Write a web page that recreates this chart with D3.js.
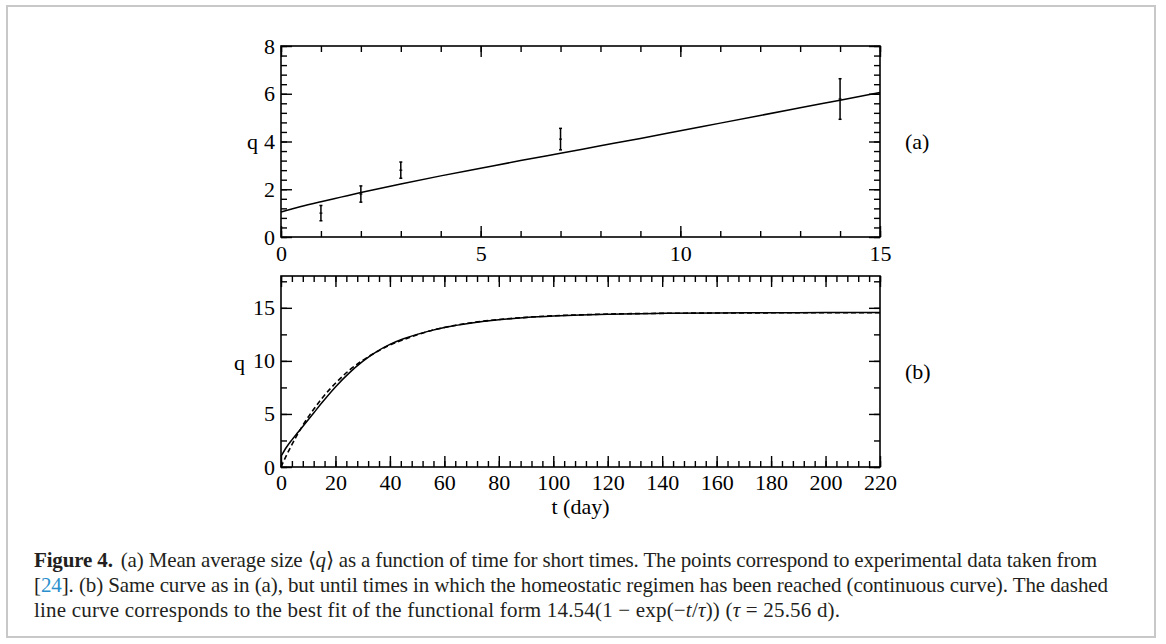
<!DOCTYPE html>
<html>
<head>
<meta charset="utf-8">
<script src="https://cdn.jsdelivr.net/npm/d3@7"></script>
<style>
  body { margin: 0; background: #fff; }
  svg { display: block; }
  .axis text { font-family: "Liberation Serif", "DejaVu Serif", serif; font-size: 22px; fill: #000; }
  .axis line { stroke: #000; stroke-width: 1.4; }
  .axis path { display: none; }
  .lbl { font-family: "Liberation Serif", serif; font-size: 22px; fill: #000; }
  .cap text { font-family: "Liberation Serif", serif; font-size: 21px; fill: #231f20; }
</style>
</head>
<body>
<div id="chart"></div>
<script>
// panel (a): short times
var tShort = [0, 0.5, 1, 1.5, 2, 3, 4, 5, 6, 7, 8, 9, 10, 11, 12, 13, 14, 15];
var qShort = [1.05, 1.28, 1.48, 1.67, 1.86, 2.22, 2.56, 2.88, 3.2, 3.51, 3.82, 4.13, 4.45, 4.77, 5.09, 5.41, 5.73, 6.05];
// experimental points with error bars
var tExp = [1, 2, 3, 7, 14];
var qExp = [1.0, 1.8, 2.8, 4.1, 5.78];
var qErr = [0.32, 0.34, 0.34, 0.45, 0.85];

// panel (b): long times
var tLong = [0, 2, 4, 6, 8, 10, 12, 15, 20, 25, 30, 35, 40, 45, 50, 55, 60, 70, 80, 90, 100, 110, 120, 140, 160, 180, 200, 220];
var qSim = [1.0, 1.86, 2.56, 3.2, 3.82, 4.45, 5.09, 6.05, 7.55, 8.85, 9.95, 10.85, 11.55, 12.08, 12.5, 12.85, 13.15, 13.58, 13.88, 14.08, 14.22, 14.32, 14.4, 14.48, 14.52, 14.54, 14.55, 14.55];
var qFit = [0, 1.1, 2.1, 3.05, 3.92, 4.71, 5.44, 6.45, 7.89, 9.1, 10.05, 10.83, 11.5, 12.0, 12.46, 12.85, 13.15, 13.6, 13.9, 14.1, 14.25, 14.34, 14.41, 14.48, 14.51, 14.53, 14.54, 14.54];

var w = 1166;
var h = 644;

var svg = d3
  .select("#chart")
  .append("svg")
  .attr("width", w)
  .attr("height", h);

// light page frame
svg.append("rect")
  .attr("x", 7).attr("y", 6)
  .attr("width", 1148).attr("height", 631)
  .attr("fill", "none")
  .attr("stroke", "#c8c8c8")
  .attr("stroke-width", 2);

function drawFrame(g, x, y, xStep, xMinor, yStep, yMinor, pad) {
  var x0 = x.range()[0], x1 = x.range()[1];
  var y0 = y.range()[0], y1 = y.range()[1];
  var xd = x.domain(), yd = y.domain();
  var xMaj = d3.range(xd[0], xd[1] + 1e-9, xStep);
  var xMin = d3.range(xd[0], xd[1] + 1e-9, xMinor);
  var yMaj = d3.range(yd[0], yd[1] + 1e-9, yStep);
  var yMin = d3.range(yd[0], yd[1] + 1e-9, yMinor);

  // bottom
  g.append("g").attr("class", "axis").attr("transform", "translate(0," + y0 + ")")
    .call(d3.axisBottom(x).tickValues(xMin).tickSize(-6).tickFormat(""));
  g.append("g").attr("class", "axis").attr("transform", "translate(0," + y0 + ")")
    .call(d3.axisBottom(x).tickValues(xMaj).tickSize(-11).tickPadding(pad).tickFormat(d3.format("d")));
  // top
  g.append("g").attr("class", "axis").attr("transform", "translate(0," + y1 + ")")
    .call(d3.axisTop(x).tickValues(xMin).tickSize(-6).tickFormat(""));
  g.append("g").attr("class", "axis").attr("transform", "translate(0," + y1 + ")")
    .call(d3.axisTop(x).tickValues(xMaj).tickSize(-11).tickFormat(""));
  // left
  g.append("g").attr("class", "axis").attr("transform", "translate(" + x0 + ",0)")
    .call(d3.axisLeft(y).tickValues(yMin).tickSize(-6).tickFormat(""));
  g.append("g").attr("class", "axis").attr("transform", "translate(" + x0 + ",0)")
    .call(d3.axisLeft(y).tickValues(yMaj).tickSize(-11).tickPadding(6).tickFormat(d3.format("d")));
  // right
  g.append("g").attr("class", "axis").attr("transform", "translate(" + x1 + ",0)")
    .call(d3.axisRight(y).tickValues(yMin).tickSize(-6).tickFormat(""));
  g.append("g").attr("class", "axis").attr("transform", "translate(" + x1 + ",0)")
    .call(d3.axisRight(y).tickValues(yMaj).tickSize(-11).tickFormat(""));

  g.append("rect")
    .attr("x", x0).attr("y", y1)
    .attr("width", x1 - x0).attr("height", y0 - y1)
    .attr("fill", "none").attr("stroke", "#000").attr("stroke-width", 1.6);
}

// ---- panel (a)
var xa = d3.scaleLinear().domain([0, 15]).range([281, 880]);
var ya = d3.scaleLinear().domain([0, 8]).range([237, 46]);
var ga = svg.append("g");
drawFrame(ga, xa, ya, 5, 1, 2, 0.4, 8);

var lineA = d3.line()
  .x((d, i) => xa(tShort[i]))
  .y((d) => ya(d))
  .curve(d3.curveMonotoneX);
ga.append("path")
  .attr("d", lineA(qShort))
  .attr("fill", "none").attr("stroke", "#000").attr("stroke-width", 1.5);

var bars = ga.append("g").selectAll("g").data(tExp).enter().append("g");
bars.append("line")
  .attr("x1", (d) => xa(d)).attr("x2", (d) => xa(d))
  .attr("y1", (d, i) => ya(qExp[i] - qErr[i]))
  .attr("y2", (d, i) => ya(qExp[i] + qErr[i]))
  .attr("stroke", "#000").attr("stroke-width", 1.5);
bars.append("line")
  .attr("x1", (d) => xa(d) - 1.5).attr("x2", (d) => xa(d) + 1.5)
  .attr("y1", (d, i) => ya(qExp[i] + qErr[i])).attr("y2", (d, i) => ya(qExp[i] + qErr[i]))
  .attr("stroke", "#000").attr("stroke-width", 1.5);
bars.append("line")
  .attr("x1", (d) => xa(d) - 1.5).attr("x2", (d) => xa(d) + 1.5)
  .attr("y1", (d, i) => ya(qExp[i] - qErr[i])).attr("y2", (d, i) => ya(qExp[i] - qErr[i]))
  .attr("stroke", "#000").attr("stroke-width", 1.5);
bars.append("line")
  .attr("x1", (d) => xa(d) - 1.5).attr("x2", (d) => xa(d) + 1.5)
  .attr("y1", (d, i) => ya(qExp[i])).attr("y2", (d, i) => ya(qExp[i]))
  .attr("stroke", "#000").attr("stroke-width", 1.2);

ga.append("text").attr("class", "lbl")
  .attr("x", 258).attr("y", ya(4)).attr("dy", "0.32em")
  .attr("text-anchor", "end").text("q");
ga.append("text").attr("class", "lbl")
  .attr("x", 905).attr("y", ya(4)).attr("dy", "0.32em")
  .text("(a)");

// ---- panel (b)
var xb = d3.scaleLinear().domain([0, 220]).range([281, 880]);
var yb = d3.scaleLinear().domain([0, 18]).range([467, 276]);
var gb = svg.append("g");
drawFrame(gb, xb, yb, 20, 4, 5, 2.5, 7);

var lineB = d3.line()
  .x((d, i) => xb(tLong[i]))
  .y((d) => yb(d))
  .curve(d3.curveMonotoneX);
gb.append("path")
  .attr("d", lineB(qFit))
  .attr("fill", "none").attr("stroke", "#000").attr("stroke-width", 1.6)
  .attr("stroke-dasharray", "5,3");
gb.append("path")
  .attr("d", lineB(qSim))
  .attr("fill", "none").attr("stroke", "#000").attr("stroke-width", 1.5);

gb.append("text").attr("class", "lbl")
  .attr("x", 245).attr("y", yb(10) + 2).attr("dy", "0.32em")
  .attr("text-anchor", "end").text("q");
gb.append("text").attr("class", "lbl")
  .attr("x", 905).attr("y", yb(9)).attr("dy", "0.32em")
  .text("(b)");
gb.append("text").attr("class", "lbl")
  .attr("x", xb(110)).attr("y", 514)
  .attr("text-anchor", "middle").text("t (day)");

// ---- caption
var cap = svg.append("g").attr("class", "cap");
var l1 = cap.append("text").attr("x", 34).attr("y", 567)
  .attr("textLength", 1063).attr("lengthAdjust", "spacing");
l1.append("tspan").attr("font-weight", "bold").text("Figure 4.");
l1.append("tspan").attr("dx", 8).text("(a) Mean average size \u27E8");
l1.append("tspan").attr("font-style", "italic").text("q");
l1.append("tspan").text("\u27E9 as a function of time for short times. The points correspond to experimental data taken from");

var l2 = cap.append("text").attr("x", 34).attr("y", 592)
  .attr("textLength", 1074).attr("lengthAdjust", "spacing");
l2.append("tspan").text("[");
l2.append("tspan").attr("fill", "#2a8fcc").text("24");
l2.append("tspan").text("]. (b) Same curve as in (a), but until times in which the homeostatic regimen has been reached (continuous curve). The dashed");

var l3 = cap.append("text").attr("x", 34).attr("y", 617)
  .attr("textLength", 806).attr("lengthAdjust", "spacing");
l3.append("tspan").text("line curve corresponds to the best fit of the functional form 14.54(1 \u2212 exp(\u2212");
l3.append("tspan").attr("font-style", "italic").text("t");
l3.append("tspan").text("/");
l3.append("tspan").attr("font-style", "italic").text("\u03C4");
l3.append("tspan").text(")) (");
l3.append("tspan").attr("font-style", "italic").text("\u03C4");
l3.append("tspan").text(" = 25.56 d).");
</script>
</body>
</html>
